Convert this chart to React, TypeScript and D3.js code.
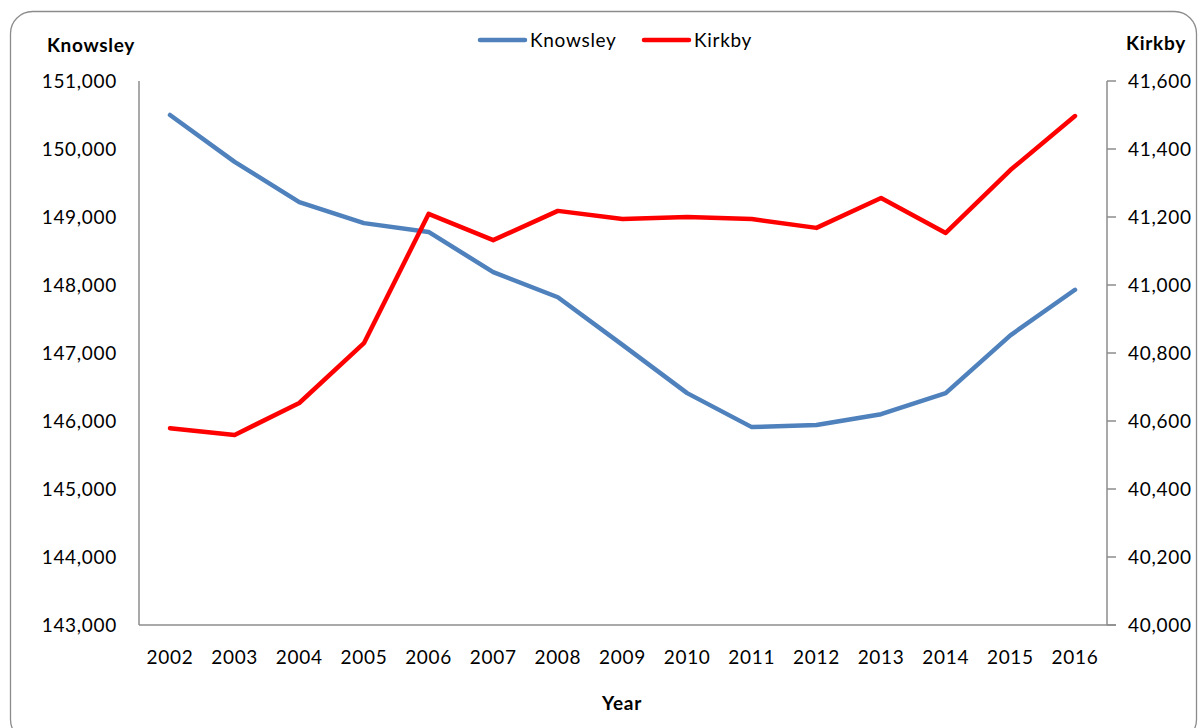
import { useEffect, useRef } from "react";
import * as d3 from "d3";

const years = [2002, 2003, 2004, 2005, 2006, 2007, 2008, 2009, 2010, 2011, 2012, 2013, 2014, 2015, 2016];
const knowsley = [150500, 149810, 149220, 148910, 148780, 148190, 147820, 147120, 146410, 145910, 145940, 146100, 146410, 147260, 147930];
const kirkby = [40579, 40559, 40653, 40829, 41209, 41132, 41218, 41194, 41200, 41194, 41168, 41256, 41153, 41338, 41497];
const leftTicks = [143000, 144000, 145000, 146000, 147000, 148000, 149000, 150000, 151000];
const rightTicks = [40000, 40200, 40400, 40600, 40800, 41000, 41200, 41400, 41600];

const FONT = "Lato, 'Open Sans', sans-serif";
const FS = 19;
const LS = "0.7px";
const BLUE = "#4f81bd";
const RED = "#ff0000";

export default function App() {
  const svgRef = useRef<SVGSVGElement>(null);

  useEffect(() => {
    if (!svgRef.current) return;
    const width = 1200;
    const height = 728;
    const svg = d3.select(svgRef.current);
    svg.selectAll("*").remove();

    const left = 139;
    const right = 1107;
    const top = 81;
    const bottom = 625;

    svg
      .append("rect")
      .attr("x", 10.5)
      .attr("y", 11.5)
      .attr("width", 1186)
      .attr("height", 730)
      .attr("rx", 22)
      .attr("fill", "#fff")
      .attr("stroke", "#8c8c8c")
      .attr("stroke-width", 1.3);

    const x = d3
      .scalePoint<number>()
      .domain(years)
      .range([170, 1075]);
    const yL = d3.scaleLinear().domain([143000, 151000]).range([bottom, top]);
    const yR = d3.scaleLinear().domain([40000, 41600]).range([bottom, top]);

    const fmt = d3.format(",");
    const axisColor = "#8c8c8c";

    // left axis line
    svg
      .append("line")
      .attr("x1", left)
      .attr("x2", left)
      .attr("y1", top)
      .attr("y2", bottom)
      .attr("stroke", axisColor)
      .attr("stroke-width", 1.5);

    svg
      .append("g")
      .selectAll("text")
      .data(leftTicks)
      .join("text")
      .attr("x", 117)
      .attr("y", (d) => yL(d))
      .attr("dy", "0.35em")
      .attr("text-anchor", "end")
      .attr("font-family", FONT)
      .attr("font-size", FS)
      .attr("letter-spacing", LS)
      .attr("fill", "#000")
      .text((d) => fmt(d));

    // right axis
    svg
      .append("line")
      .attr("x1", right)
      .attr("x2", right)
      .attr("y1", top)
      .attr("y2", bottom)
      .attr("stroke", axisColor)
      .attr("stroke-width", 1.5);

    svg
      .append("g")
      .selectAll("line")
      .data(rightTicks)
      .join("line")
      .attr("x1", right)
      .attr("x2", right + 9)
      .attr("y1", (d) => yR(d))
      .attr("y2", (d) => yR(d))
      .attr("stroke", axisColor)
      .attr("stroke-width", 1.5);

    svg
      .append("g")
      .selectAll("text")
      .data(rightTicks)
      .join("text")
      .attr("x", 1128)
      .attr("y", (d) => yR(d))
      .attr("dy", "0.35em")
      .attr("text-anchor", "start")
      .attr("font-family", FONT)
      .attr("font-size", FS)
      .attr("letter-spacing", LS)
      .attr("fill", "#000")
      .text((d) => fmt(d));

    // bottom axis
    svg
      .append("line")
      .attr("x1", left)
      .attr("x2", right + 9)
      .attr("y1", bottom)
      .attr("y2", bottom)
      .attr("stroke", axisColor)
      .attr("stroke-width", 1.5);

    svg
      .append("g")
      .selectAll("text")
      .data(years)
      .join("text")
      .attr("x", (d) => x(d)!)
      .attr("y", 657)
      .attr("dy", "0.35em")
      .attr("text-anchor", "middle")
      .attr("font-family", FONT)
      .attr("font-size", FS)
      .attr("letter-spacing", LS)
      .attr("fill", "#000")
      .text((d) => String(d));

    // axis titles
    const title = (tx: number, ty: number, t: string, anchor: string) =>
      svg
        .append("text")
        .attr("x", tx)
        .attr("y", ty)
        .attr("dy", "0.35em")
        .attr("text-anchor", anchor)
        .attr("font-family", FONT)
        .attr("font-size", FS)
        .attr("letter-spacing", LS)
        .attr("font-weight", "bold")
        .attr("fill", "#000")
        .text(t);
    title(91, 45, "Knowsley", "middle");
    title(1156, 43, "Kirkby", "middle");
    title(622, 703, "Year", "middle");

    // lines
    const lineL = d3
      .line<number>()
      .x((_, i) => x(years[i])!)
      .y((d) => yL(d));
    const lineR = d3
      .line<number>()
      .x((_, i) => x(years[i])!)
      .y((d) => yR(d));

    svg
      .append("path")
      .datum(knowsley)
      .attr("d", lineL)
      .attr("fill", "none")
      .attr("stroke", BLUE)
      .attr("stroke-width", 4.5)
      .attr("stroke-linecap", "round")
      .attr("stroke-linejoin", "round");

    svg
      .append("path")
      .datum(kirkby)
      .attr("d", lineR)
      .attr("fill", "none")
      .attr("stroke", RED)
      .attr("stroke-width", 4.5)
      .attr("stroke-linecap", "round")
      .attr("stroke-linejoin", "round");

    // legend
    const legend = [
      { name: "Knowsley", color: BLUE, x0: 480 },
      { name: "Kirkby", color: RED, x0: 644 },
    ];
    const lg = svg.append("g").selectAll("g").data(legend).join("g");
    lg.append("line")
      .attr("x1", (d) => d.x0)
      .attr("x2", (d) => d.x0 + 45)
      .attr("y1", 40)
      .attr("y2", 40)
      .attr("stroke", (d) => d.color)
      .attr("stroke-width", 4.5)
      .attr("stroke-linecap", "round");
    lg.append("text")
      .attr("x", (d) => d.x0 + 50)
      .attr("y", 40)
      .attr("dy", "0.35em")
      .attr("font-family", FONT)
      .attr("font-size", FS)
      .attr("letter-spacing", LS)
      .attr("fill", "#000")
      .text((d) => d.name);

    svg.attr("viewBox", [0, 0, width, height]);
  }, []);

  return (
    <svg
      ref={svgRef}
      width={1200}
      height={728}
      style={{ position: "absolute", left: 0, top: 0, display: "block" }}
    />
  );
}
